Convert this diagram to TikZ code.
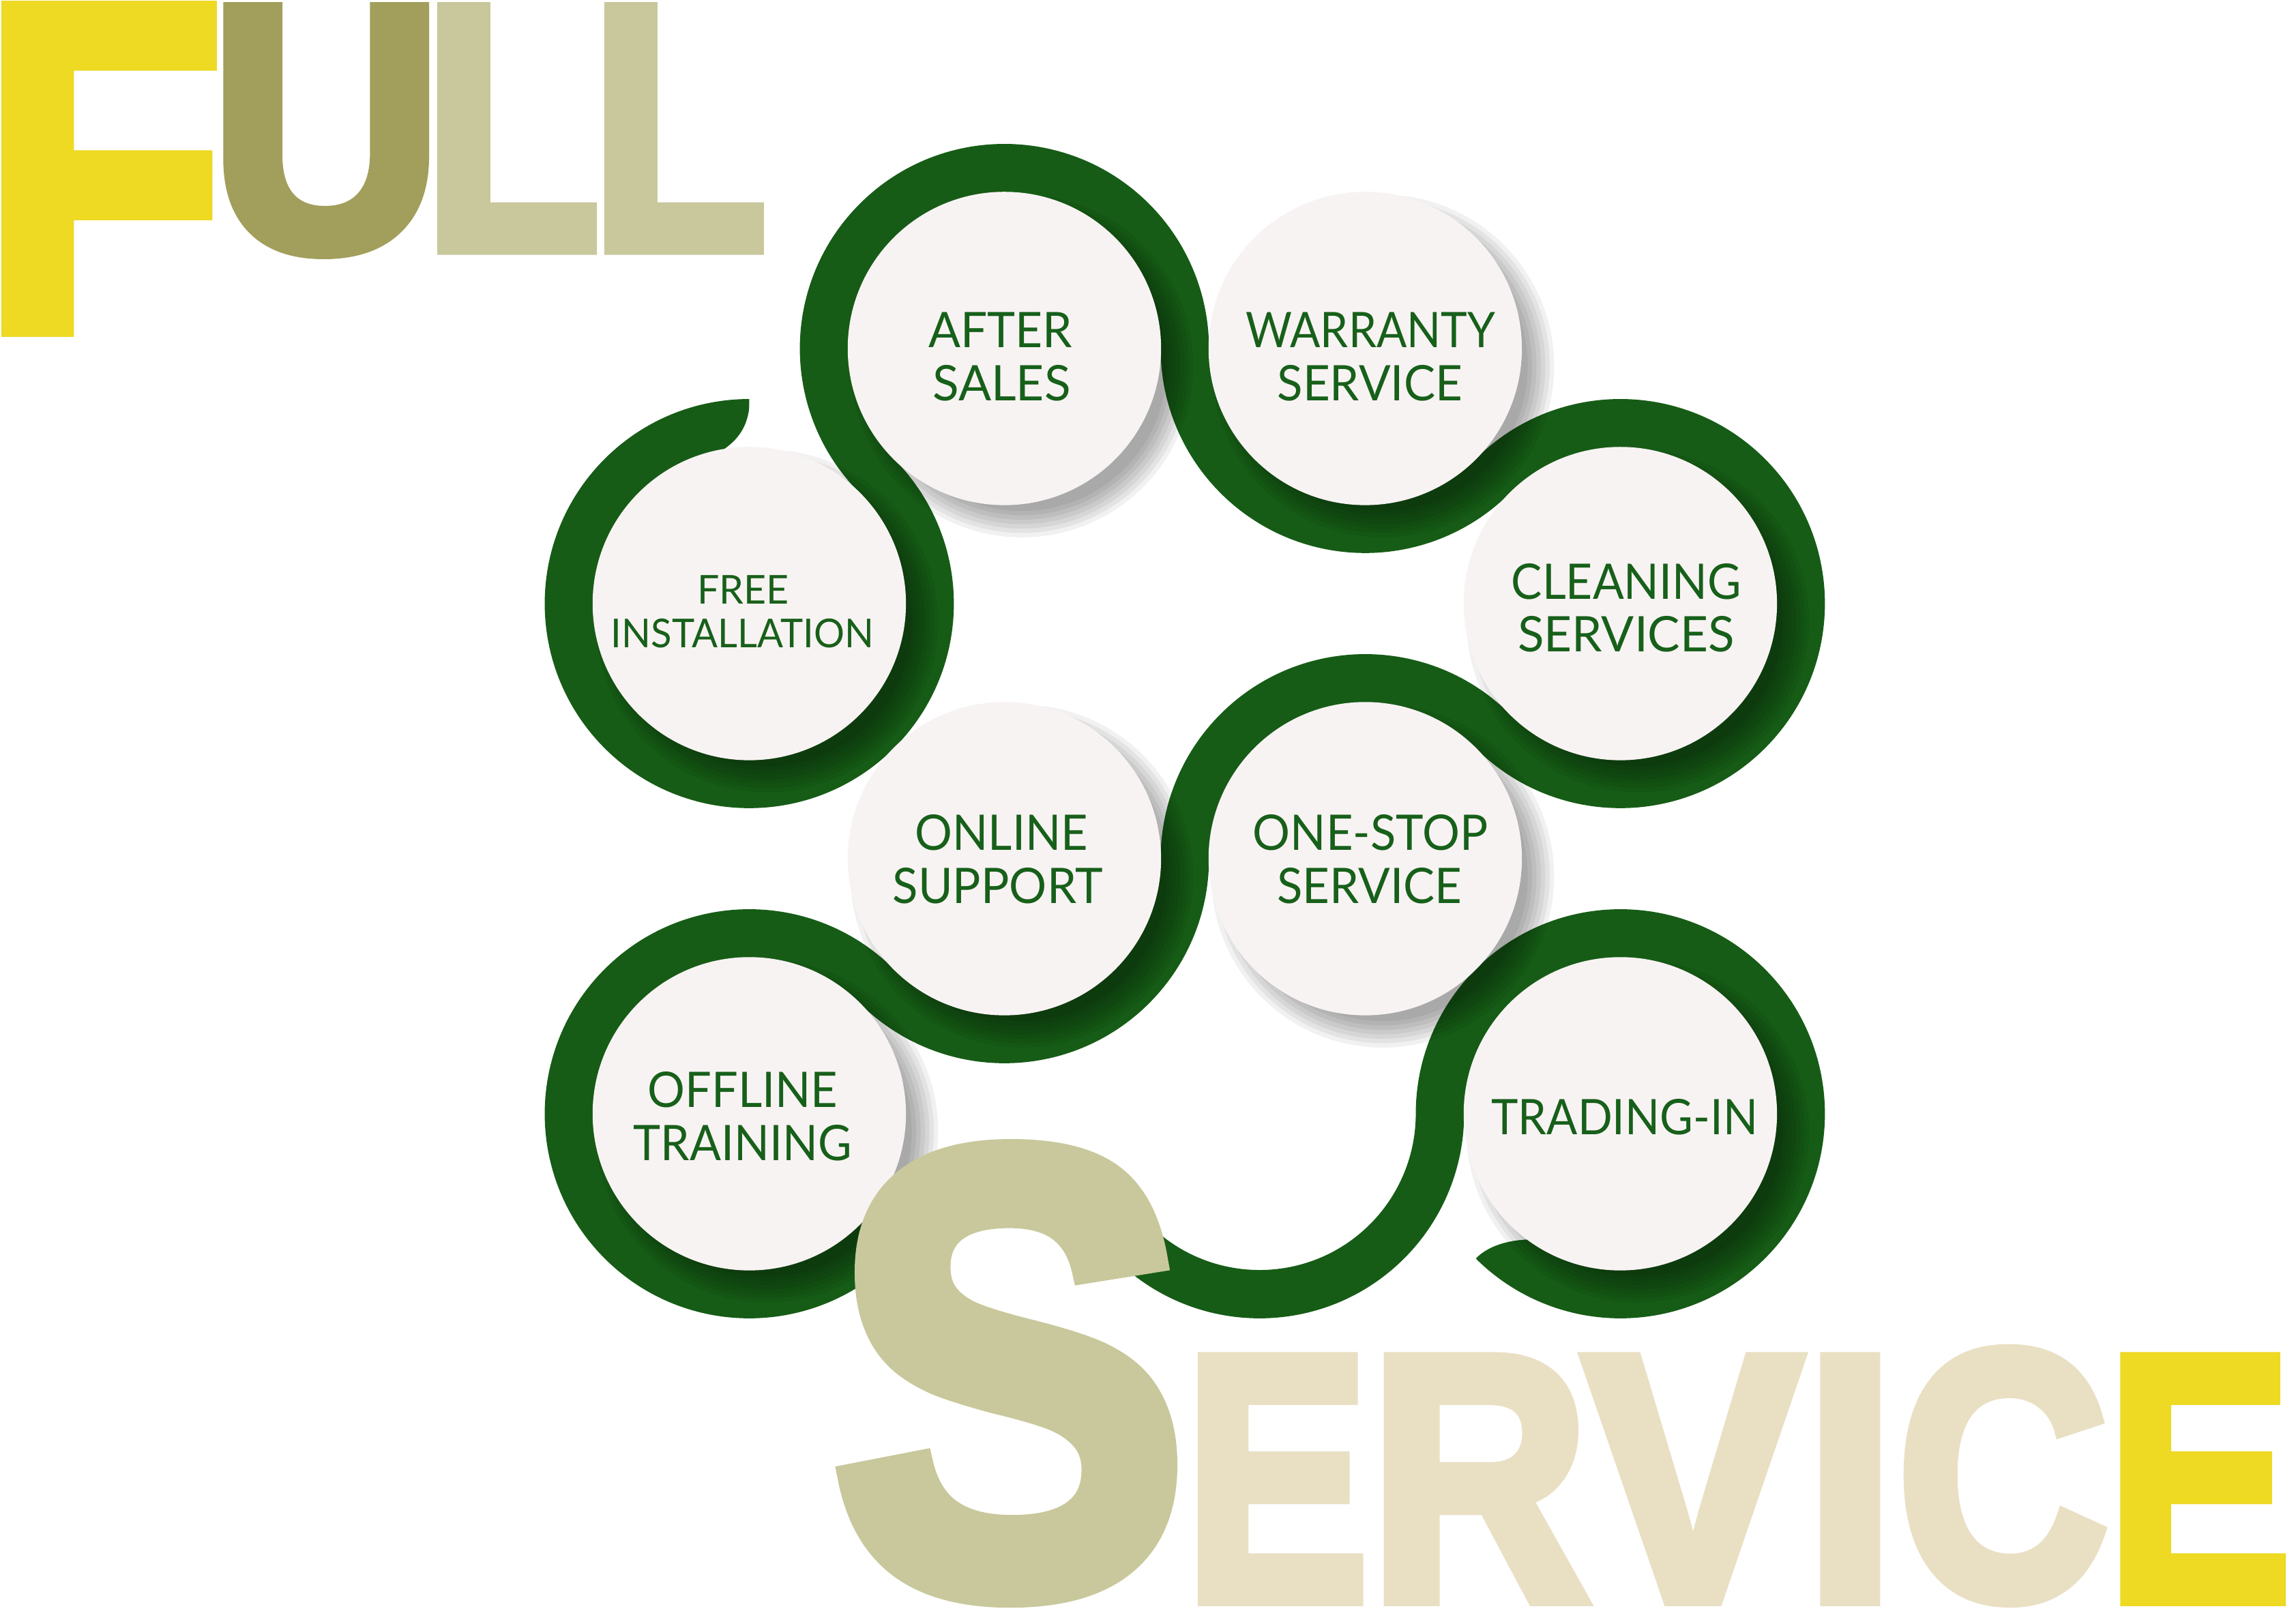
\documentclass[tikz,border=0pt]{standalone}
\usepackage{fontspec}
\usepackage{graphicx}
\newfontfamily\labfont{Lato}
\newfontfamily\bigfont{Liberation Sans}
\definecolor{bandgreen}{HTML}{165C16}
\definecolor{txtgreen}{HTML}{17601A}
\definecolor{discfill}{HTML}{F8F3F3}
\definecolor{fyellow}{HTML}{EED923}
\definecolor{uolive}{HTML}{A19F5B}
\definecolor{lolive}{HTML}{C9C89C}
\definecolor{sbeige}{HTML}{E9E0C4}
\newsavebox\glbox
\newdimen\glL
\newdimen\glR
\newdimen\glT
\newdimen\glB
\newdimen\glS
\newdimen\fitlen
% heavy glyph (outline stroked) scaled so that its ink box is exactly #1 x #2 pt
\newcommand\inkglyph[3]{%
  \setbox\glbox\hbox{#3}%
  \glL=\XeTeXglyphbounds1 \XeTeXcharglyph`#3\relax
  \glR=\XeTeXglyphbounds3 \XeTeXcharglyph`#3\relax
  \glT=\XeTeXglyphbounds2 \XeTeXcharglyph`#3\relax
  \glB=\XeTeXglyphbounds4 \XeTeXcharglyph`#3\relax
  \ifdim\glB<0pt \glB=-\glB\fi
  \glS=4pt
  \setbox\glbox\hbox{\kern-\glL\kern\glS\special{pdf:literal direct 2 Tr 8 w 0 j 4 M}\unhbox\glbox\special{pdf:literal direct 0 Tr}\kern-\glR\kern\glS}%
  \ht\glbox=\dimexpr\glT+\glS\relax
  \dp\glbox=\dimexpr\glB+\glS\relax
  \resizebox*{#1pt}{#2pt}{\usebox\glbox}}
% text line squeezed horizontally to width #1
\newcommand\fitw[2]{%
  \settowidth\fitlen{#2}%
  \pgfmathsetmacro\fitsc{(#1+2)/\fitlen}%
  \scalebox{\fitsc}[1]{#2}}
\newcommand\lbl[6]{\node[lab, font=\labfont\fontsize{#5}{#5}\selectfont] (#1) at (#2,#3) {\fitw{#4}{#6}};}
\newcommand\bigL[7]{\node[big, text=#6] (#1) at (#2,#3) {\inkglyph{#4}{#5}{#7}};}
\begin{document}
\begin{tikzpicture}[x=1pt,y=-1pt,
  band/.style={draw=bandgreen, line width=33pt},
  disc/.style={circle, fill=discfill, minimum size=214pt, inner sep=0pt, outer sep=0pt},
  lab/.style={text=txtgreen, inner sep=0pt, anchor=base},
  big/.style={inner sep=0pt, outer sep=0pt, anchor=south west, font=\bigfont\bfseries\fontsize{200}{200}\selectfont},
  carve/.style={fill=white},
  shadelayer/.style={fill=black, fill opacity=0.055}]
\useasboundingbox (0,0) rectangle (1568,1100);
\fill[white] (0,0) rectangle (1568,1100);
\def\R{123.2}
\def\A{174.23}
\coordinate (cFree) at (511.7,238+\A);
\coordinate (cAfter) at (511.7+\A,238);
\coordinate (cWarr) at (511.7+\A+2*\R,238);
\coordinate (cClean) at (511.7+2*\A+2*\R,238+\A);
\coordinate (cStop) at (511.7+\A+2*\R,238+2*\A);
\coordinate (cOnline) at (511.7+\A,238+2*\A);
\coordinate (cOff) at (511.7,238+3*\A);
\coordinate (cTrade) at (511.7+2*\A+2*\R,238+3*\A);
\coordinate (bandStart) at (511.7,238+\A-\R);
% the snake band
\draw[band] (bandStart)
  arc[start angle=270, end angle=-45, radius=\R]
  arc[start angle=135, end angle=360, radius=\R]
  arc[start angle=180, end angle=45, radius=\R]
  arc[start angle=225, end angle=495, radius=\R]
  arc[start angle=315, end angle=180, radius=\R]
  arc[start angle=0, end angle=135, radius=\R]
  arc[start angle=315, end angle=45, radius=\R]
  arc[start angle=225, end angle=315, radius=\R]
  arc[start angle=135, end angle=0, radius=\R]
  arc[start angle=180, end angle=495, radius=\R];
% curved band ends
\fill[carve] (512.2,268) -- (512.2,272) .. controls (511.8,289) and (506,298.5) .. (495,306.5) -- (515,312) -- (515,268) -- cycle;
\fill[carve] (1004,862) -- (1007.8,859.5) .. controls (1016,851) and (1030,846.5) .. (1046.6,846.5) -- (1050,832) -- (1026,828) -- (1004,856) -- cycle;
% soft drop shadows
\foreach \c in {cFree,cAfter,cWarr,cClean,cStop,cOnline,cOff,cTrade}{
  \foreach \r in {99,102,...,117}{
    \fill[shadelayer] ([shift={(12,12)}]\c) circle (\r);
  }
}
% discs
\node[disc] (dFree) at (cFree) {};
\node[disc] (dAfter) at (cAfter) {};
\node[disc] (dWarr) at (cWarr) {};
\node[disc] (dClean) at (cClean) {};
\node[disc] (dStop) at (cStop) {};
\node[disc] (dOnline) at (cOnline) {};
\node[disc] (dOff) at (cOff) {};
\node[disc] (dTrade) at (cTrade) {};
% labels
\lbl{tAfterA}{683.2}{237.5}{96.3}{33.5}{AFTER}
\lbl{tAfterB}{684}{273.5}{92.2}{33.5}{SALES}
\lbl{tWarrA}{936}{237.5}{168.5}{33.5}{WARRANTY}
\lbl{tWarrB}{935.5}{273.5}{124.4}{33.5}{SERVICE}
\lbl{tFreeA}{507.5}{412.4}{60.6}{27.2}{FREE}
\lbl{tFreeB}{507}{442.5}{177.4}{27.2}{INSTALLATION}
\lbl{tCleanA}{1110.7}{409}{155}{33.5}{CLEANING}
\lbl{tCleanB}{1110.5}{445}{146}{33.5}{SERVICES}
\lbl{tOnlineA}{684}{580.5}{116}{33.5}{ONLINE}
\lbl{tOnlineB}{681.5}{617}{141.6}{33.5}{SUPPORT}
\lbl{tStopA}{935.8}{580.5}{158.4}{33.5}{ONE-STOP}
\lbl{tStopB}{935.3}{617}{124.2}{33.5}{SERVICE}
\lbl{tOffA}{507.3}{756.5}{127.8}{33.5}{OFFLINE}
\lbl{tOffB}{507.2}{792.8}{147.1}{33.5}{TRAINING}
\lbl{tTrade}{1109.5}{774.8}{180.1}{33.5}{TRADING-IN}
% big letters
\bigL{bF}{1}{230}{147}{229.5}{fyellow}{F}
\bigL{bU}{152.5}{177}{140.5}{175.5}{uolive}{U}
\bigL{bLa}{298.6}{174}{109}{172.5}{lolive}{L}
\bigL{bLb}{412.7}{174}{109}{172.5}{lolive}{L}
\bigL{bS}{572}{1098}{232}{320}{lolive}{S}
\bigL{bE}{818}{1097}{113}{173.5}{sbeige}{E}
\bigL{bR}{945}{1097}{140}{173.5}{sbeige}{R}
\bigL{bV}{1079}{1097}{154}{173.5}{sbeige}{V}
\bigL{bI}{1243}{1097}{41}{173.5}{sbeige}{I}
\bigL{bC}{1300}{1098}{138}{180}{sbeige}{C}
\bigL{bEb}{1448}{1097}{113}{173.5}{fyellow}{E}
\end{tikzpicture}
\end{document}
